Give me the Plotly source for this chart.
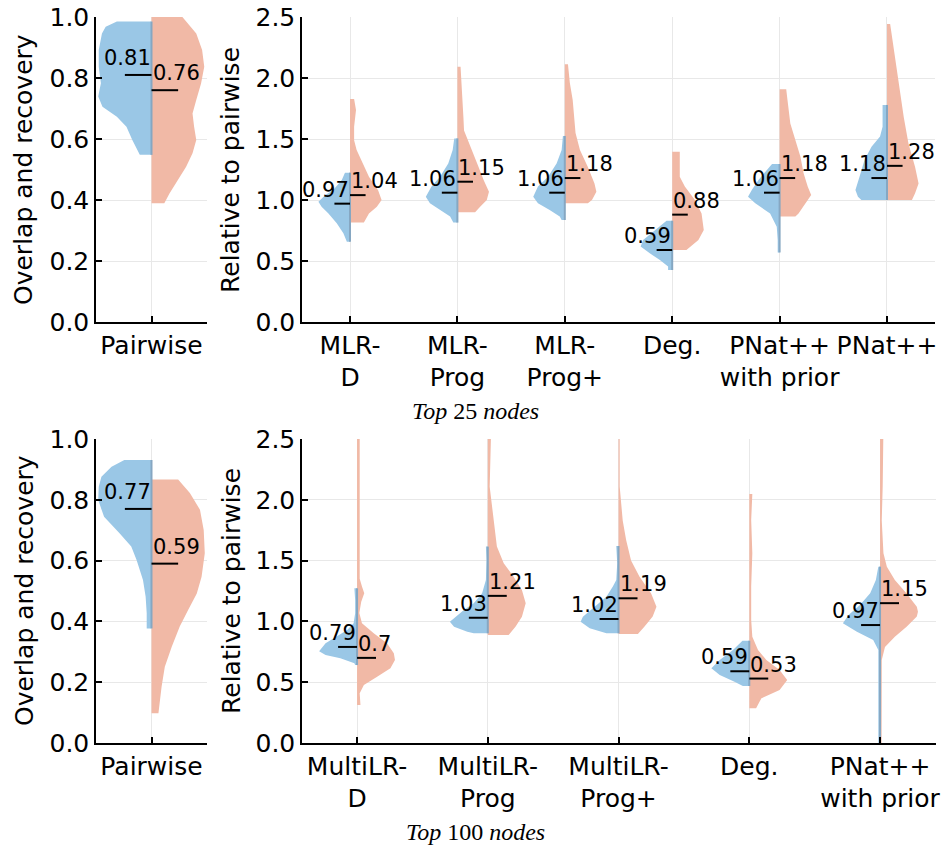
import plotly.graph_objects as go

# ------------------------------------------------------------------ data
BLUE = "#9AC7E6"
RED = "#F1B9A6"
EDGE = "#86A7C2"

# Top 25 nodes - Pairwise (overlap / recovery)
top_pair_label = ["Pairwise"]
top_pair_median_blue = [0.81]
top_pair_median_red = [0.76]
top_pair_blue_y = [[0.548, 0.597, 0.640, 0.673, 0.706, 0.739, 0.783, 0.837, 0.892, 0.946, 0.968, 0.985]]
top_pair_blue_w = [[0.22, 0.36, 0.47, 0.65, 0.92, 1.0, 0.95, 0.99, 0.99, 0.93, 0.86, 0.65]]
top_pair_red_y = [[0.389, 0.422, 0.466, 0.509, 0.553, 0.597, 0.640, 0.684, 0.728, 0.782, 0.837, 0.892, 0.946, 1.0]]
top_pair_red_w = [[0.24, 0.34, 0.50, 0.65, 0.77, 0.84, 0.80, 0.77, 0.84, 0.93, 0.99, 0.95, 0.84, 0.58]]

# Top 25 nodes - relative to pairwise
top_labels = ["MLR-<br>D", "MLR-<br>Prog", "MLR-<br>Prog+", "Deg.", "PNat++<br>with prior", "PNat++"]
top_median_blue = [0.97, 1.06, 1.06, 0.59, 1.06, 1.18]
top_median_red = [1.04, 1.15, 1.18, 0.88, 1.18, 1.28]
top_blue_y = [
    [0.658, 0.727, 0.809, 0.891, 0.945, 0.985, 1.04, 1.082, 1.164, 1.224],
    [0.815, 0.864, 0.918, 0.973, 1.027, 1.11, 1.19, 1.30, 1.41, 1.505],
    [0.836, 0.864, 0.918, 0.973, 1.027, 1.11, 1.19, 1.30, 1.41, 1.525],
    [0.426, 0.454, 0.508, 0.563, 0.618, 0.672, 0.755, 0.83],
    [0.57, 0.672, 0.78, 0.89, 0.973, 1.027, 1.082, 1.164, 1.246, 1.295],
    [1.0, 1.027, 1.082, 1.19, 1.33, 1.437, 1.52, 1.6, 1.779],
]
top_blue_w = [
    [0.10, 0.21, 0.42, 0.69, 0.90, 1.0, 0.78, 0.53, 0.26, 0.16],
    [0.13, 0.23, 0.55, 0.87, 1.0, 0.82, 0.55, 0.29, 0.15, 0.10],
    [0.10, 0.16, 0.48, 0.85, 1.0, 0.85, 0.53, 0.26, 0.10, 0.06],
    [0.13, 0.13, 0.39, 0.71, 1.0, 0.92, 0.55, 0.18],
    [0.06, 0.06, 0.09, 0.30, 0.77, 1.0, 0.88, 0.67, 0.40, 0.24],
    [0.81, 0.92, 1.0, 0.87, 0.71, 0.49, 0.22, 0.14, 0.14],
]
top_red_y = [
    [0.815, 0.89, 0.945, 1.0, 1.08, 1.19, 1.30, 1.41, 1.49, 1.6, 1.738, 1.828],
    [0.90, 0.945, 1.0, 1.068, 1.164, 1.27, 1.38, 1.49, 1.57, 1.68, 1.82, 1.956, 2.093],
    [0.973, 1.0, 1.068, 1.135, 1.27, 1.41, 1.55, 1.82, 1.96, 2.113],
    [0.59, 0.672, 0.755, 0.89, 1.0, 1.11, 1.19, 1.396],
    [0.864, 0.89, 0.973, 1.04, 1.11, 1.22, 1.355, 1.49, 1.628, 1.82, 1.907],
    [1.0, 1.055, 1.135, 1.27, 1.464, 1.68, 1.956, 2.23, 2.443],
]
top_red_w = [
    [0.44, 0.60, 0.85, 1.0, 0.89, 0.60, 0.40, 0.21, 0.13, 0.13, 0.19, 0.13],
    [0.56, 0.72, 0.93, 1.0, 0.83, 0.67, 0.51, 0.35, 0.21, 0.19, 0.16, 0.14, 0.10],
    [0.73, 0.86, 1.0, 0.94, 0.73, 0.48, 0.34, 0.25, 0.16, 0.10],
    [0.45, 0.83, 1.0, 0.93, 0.72, 0.40, 0.24, 0.24],
    [0.50, 0.60, 0.82, 1.0, 0.89, 0.76, 0.66, 0.50, 0.34, 0.25, 0.21],
    [0.79, 0.89, 1.0, 0.89, 0.68, 0.53, 0.37, 0.21, 0.10],
]

# Top 100 nodes - Pairwise
bot_pair_label = ["Pairwise"]
bot_pair_median_blue = [0.77]
bot_pair_median_red = [0.59]
bot_pair_blue_y = [[0.377, 0.427, 0.481, 0.536, 0.602, 0.646, 0.690, 0.744, 0.799, 0.843, 0.876, 0.909, 0.931]]
bot_pair_blue_w = [[0.09, 0.09, 0.11, 0.16, 0.28, 0.38, 0.60, 0.89, 1.0, 0.99, 0.94, 0.75, 0.51]]
bot_pair_red_y = [[0.098, 0.186, 0.251, 0.317, 0.383, 0.438, 0.492, 0.547, 0.624, 0.701, 0.767, 0.822, 0.867]]
bot_pair_red_w = [[0.13, 0.19, 0.25, 0.38, 0.53, 0.69, 0.85, 0.94, 1.0, 0.98, 0.91, 0.72, 0.50]]

# Top 100 nodes - relative to pairwise
bot_labels = ["MultiLR-<br>D", "MultiLR-<br>Prog", "MultiLR-<br>Prog+", "Deg.", "PNat++<br>with prior"]
bot_median_blue = [0.79, 1.03, 1.02, 0.59, 0.97]
bot_median_red = [0.70, 1.21, 1.19, 0.53, 1.15]
bot_blue_y = [
    [0.641, 0.655, 0.696, 0.724, 0.755, 0.820, 0.874, 0.929, 0.984, 1.066, 1.176, 1.272],
    [0.902, 0.915, 0.957, 0.998, 1.039, 1.094, 1.149, 1.231, 1.34, 1.505, 1.615],
    [0.902, 0.943, 0.998, 1.039, 1.121, 1.203, 1.286, 1.34, 1.478, 1.62],
    [0.469, 0.504, 0.559, 0.614, 0.683, 0.765, 0.841],
    [-0.05, 0.765, 0.847, 0.915, 0.984, 1.053, 1.135, 1.231, 1.34, 1.45],
]
bot_blue_w = [
    [0.05, 0.07, 0.44, 0.83, 1.0, 0.83, 0.53, 0.26, 0.09, 0.05, 0.05, 0.07],
    [0.37, 0.54, 0.89, 1.0, 0.85, 0.63, 0.37, 0.15, 0.05, 0.035, 0.05],
    [0.32, 0.76, 1.0, 0.94, 0.63, 0.32, 0.15, 0.06, 0.035, 0.06],
    [0.17, 0.39, 0.78, 1.0, 0.78, 0.43, 0.18],
    [0.045, 0.045, 0.18, 0.61, 0.98, 0.83, 0.53, 0.26, 0.11, 0.045],
]
bot_red_y = [
    [0.313, 0.409, 0.477, 0.545, 0.614, 0.683, 0.738, 0.820, 0.902, 0.984, 1.07, 1.162, 1.231, 1.286, 1.35, 2.6],
    [0.888, 0.957, 1.039, 1.149, 1.258, 1.368, 1.478, 1.615, 1.834, 2.108, 2.6],
    [0.896, 0.957, 1.04, 1.12, 1.23, 1.37, 1.5, 1.67, 1.83, 2.11, 2.6],
    [0.285, 0.34, 0.367, 0.436, 0.518, 0.6, 0.683, 0.765, 0.874, 1.012, 1.286, 1.56, 1.834, 2.048],
    [-0.05, 0.683, 0.79, 0.874, 0.957, 1.04, 1.08, 1.12, 1.23, 1.34, 1.45, 1.56, 1.83, 2.11, 2.6],
]
bot_red_w = [
    [0.09, 0.07, 0.18, 0.53, 0.88, 1.0, 0.97, 0.79, 0.44, 0.13, 0.06, 0.11, 0.19, 0.13, 0.07, 0.07],
    [0.55, 0.73, 0.90, 1.0, 0.90, 0.68, 0.42, 0.24, 0.16, 0.05, 0.09],
    [0.51, 0.68, 0.90, 1.0, 0.86, 0.55, 0.33, 0.20, 0.11, 0.03, 0.03],
    [0.18, 0.27, 0.32, 0.80, 1.0, 0.80, 0.45, 0.23, 0.08, 0.05, 0.05, 0.08, 0.05, 0.08],
    [0.04, 0.045, 0.13, 0.39, 0.70, 0.97, 1.0, 0.97, 0.70, 0.39, 0.18, 0.09, 0.045, 0.07, 0.09],
]

titles = ["<i>Top</i> 25 <i>nodes</i>", "<i>Top</i> 100 <i>nodes</i>"]

# ------------------------------------------------------------------ figure
W_PX, H_PX = 943, 846
fig = go.Figure()

FONT = "DejaVu Sans"


def add_panel(xa, ya, by, bw, ry, rw, mb, mr, halfw, mlen, yshift):
    xref = "x" if xa == 1 else f"x{xa}"
    yref = "y" if ya == 1 else f"y{ya}"
    for i in range(len(by)):
        c = i + 1
        # red (right half)
        xs = [c] + [c + w * halfw for w in rw[i]] + [c, c]
        ys = [ry[i][0]] + ry[i] + [ry[i][-1], ry[i][0]]
        fig.add_trace(go.Scatter(x=xs, y=ys, mode="lines", fill="toself", fillcolor=RED,
                                 line=dict(width=0, color=RED), xaxis=xref, yaxis=yref,
                                 hoverinfo="skip", showlegend=False))
        # blue (left half)
        xs = [c] + [c - w * halfw for w in bw[i]] + [c, c]
        ys = [by[i][0]] + by[i] + [by[i][-1], by[i][0]]
        fig.add_trace(go.Scatter(x=xs, y=ys, mode="lines", fill="toself", fillcolor=BLUE,
                                 line=dict(width=0, color=BLUE), xaxis=xref, yaxis=yref,
                                 hoverinfo="skip", showlegend=False))
        # overlap edge on the centre line
        fig.add_trace(go.Scatter(x=[c, c], y=[by[i][0], by[i][-1]], mode="lines",
                                 line=dict(width=2, color=EDGE), xaxis=xref, yaxis=yref,
                                 hoverinfo="skip", showlegend=False))
        # median lines
        fig.add_trace(go.Scatter(x=[c - mlen, c], y=[mb[i], mb[i]], mode="lines",
                                 line=dict(width=2, color="black"), xaxis=xref, yaxis=yref,
                                 hoverinfo="skip", showlegend=False))
        fig.add_trace(go.Scatter(x=[c, c + mlen], y=[mr[i], mr[i]], mode="lines",
                                 line=dict(width=2, color="black"), xaxis=xref, yaxis=yref,
                                 hoverinfo="skip", showlegend=False))
        fig.add_annotation(x=c, y=mb[i], xref=xref, yref=yref, text=str(round(mb[i], 2)),
                           showarrow=False, xanchor="right", yanchor="bottom", yshift=yshift,
                           font=dict(family=FONT, size=21, color="black"), borderpad=0)
        fig.add_annotation(x=c, y=mr[i], xref=xref, yref=yref, text=str(round(mr[i], 2)),
                           showarrow=False, xanchor="left", yanchor="bottom", yshift=yshift,
                           font=dict(family=FONT, size=21, color="black"), borderpad=0)


add_panel(1, 1, top_pair_blue_y, top_pair_blue_w, top_pair_red_y, top_pair_red_w,
          top_pair_median_blue, top_pair_median_red, 0.48, 0.24, 4)
add_panel(2, 2, top_blue_y, top_blue_w, top_red_y, top_red_w,
          top_median_blue, top_median_red, 0.294, 0.145, 1)
add_panel(3, 3, bot_pair_blue_y, bot_pair_blue_w, bot_pair_red_y, bot_pair_red_w,
          bot_pair_median_blue, bot_pair_median_red, 0.48, 0.24, 4)
add_panel(4, 4, bot_blue_y, bot_blue_w, bot_red_y, bot_red_w,
          bot_median_blue, bot_median_red, 0.29, 0.145, 1)


def px_x(a, b):
    return [a / W_PX, b / W_PX]


def px_y(top, bottom):
    return [1 - bottom / H_PX, 1 - top / H_PX]


GRID = "#E8E8E8"
common_axis = dict(showgrid=True, gridcolor=GRID, gridwidth=1, zeroline=False,
                   showline=True, linecolor="black", linewidth=1.5,
                   ticks="inside", ticklen=6, tickwidth=1.5, tickcolor="black",
                   automargin=False, tickangle=0,
                   tickfont=dict(family=FONT, size=25, color="black"), fixedrange=True)

fig.update_layout(
    width=W_PX, height=H_PX, autosize=False,
    margin=dict(l=0, r=0, t=0, b=0, pad=0, autoexpand=False),
    paper_bgcolor="white", plot_bgcolor="white",
    showlegend=False,
    xaxis=dict(domain=px_x(96, 207), range=[0.5, 1.5], tickvals=[1], ticktext=top_pair_label,
               anchor="y", **common_axis),
    yaxis=dict(domain=px_y(17, 322), range=[0, 1.0], dtick=0.2, tickformat=".1f", anchor="x", **common_axis),
    xaxis2=dict(domain=px_x(302, 935), range=[0.553, 6.447], tickvals=list(range(1, len(top_labels) + 1)),
                ticktext=top_labels, anchor="y2", **common_axis),
    yaxis2=dict(domain=px_y(17, 322), range=[0, 2.5], dtick=0.5, tickformat=".1f", anchor="x2", **common_axis),
    xaxis3=dict(domain=px_x(96, 207), range=[0.5, 1.5], tickvals=[1], ticktext=bot_pair_label,
                anchor="y3", **common_axis),
    yaxis3=dict(domain=px_y(439, 743), range=[0, 1.0], dtick=0.2, tickformat=".1f", anchor="x3", **common_axis),
    xaxis4=dict(domain=px_x(302, 936), range=[0.579, 5.428], tickvals=list(range(1, len(bot_labels) + 1)),
                ticktext=bot_labels, anchor="y4", **common_axis),
    yaxis4=dict(domain=px_y(439, 743), range=[0, 2.5], dtick=0.5, tickformat=".1f", anchor="x4", **common_axis),
)

# y-axis titles
for txt, xp, yc in [("Overlap and recovery", 24, 170), ("Relative to pairwise", 231, 170),
                    ("Overlap and recovery", 24, 591), ("Relative to pairwise", 231, 591)]:
    fig.add_annotation(x=xp / W_PX, y=1 - yc / H_PX, xref="paper", yref="paper", text=txt,
                       textangle=-90, showarrow=False, xanchor="center", yanchor="middle",
                       font=dict(family=FONT, size=25, color="black"))

# row titles
for txt, yc in zip(titles, [411, 832]):
    fig.add_annotation(x=475 / W_PX, y=1 - yc / H_PX, xref="paper", yref="paper", text=txt,
                       showarrow=False, xanchor="center", yanchor="middle",
                       font=dict(family="Liberation Serif", size=24, color="black"))

fig.write_html("out.html")
